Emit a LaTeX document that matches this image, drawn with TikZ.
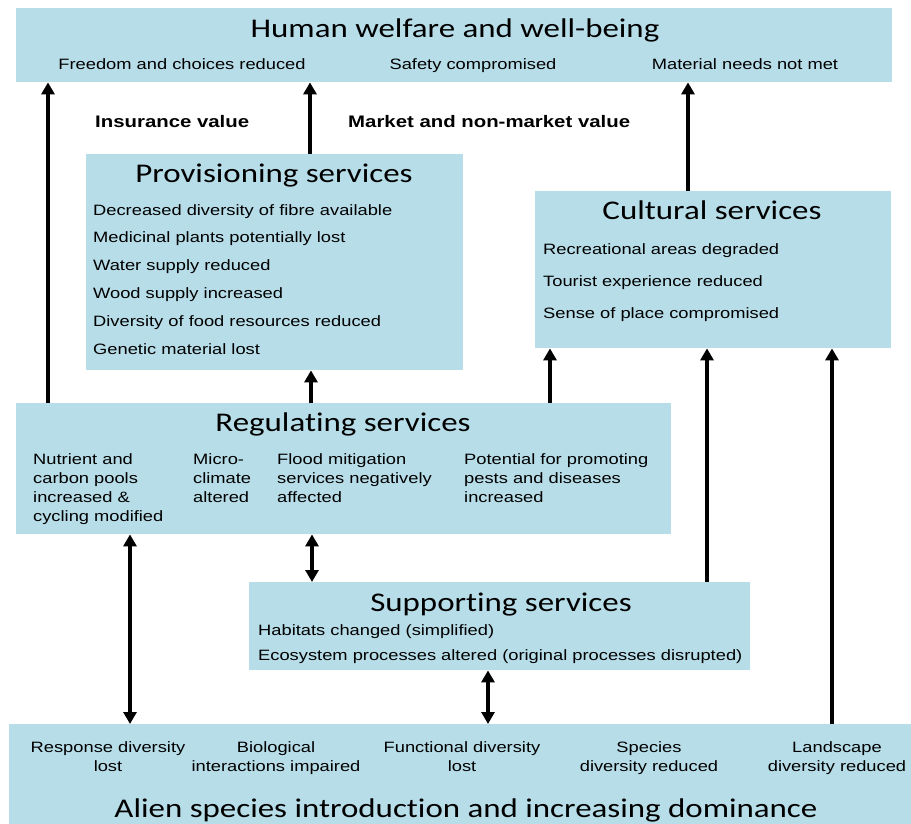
\documentclass[tikz,border=0pt]{standalone}
\usepackage{fontspec}
\setmainfont[FakeStretch=1.22]{Liberation Sans}
\newfontfamily\headfont[FakeStretch=1.22, Ligatures=NoCommon]{Carlito}
\usepackage{tikz}
\usetikzlibrary{positioning, arrows.meta}
\definecolor{panelblue}{RGB}{183,221,232}

\begin{document}
\begin{tikzpicture}[x=1pt, y=-1pt,
        panel/.style={rectangle, fill=panelblue, inner sep=0pt, anchor=north west},
        heading/.style={inner sep=0pt, anchor=base, font=\headfont\fontsize{27}{30}\selectfont},
        item/.style={inner sep=0pt, anchor=north west, align=left, font=\fontsize{15}{19}\selectfont},
        valuelabel/.style={inner sep=0pt, anchor=base west, font=\bfseries\fontsize{16.7}{20}\selectfont},
        uparrow/.style={-{Triangle[length=12pt, width=13pt]}, line width=3.5pt},
        bothways/.style={{Triangle[length=12pt, width=13pt]}-{Triangle[length=12pt, width=13pt]}, line width=3.5pt}
    ]
    \useasboundingbox (0,0) rectangle (911,824);
    % Boxes
    \node[panel, minimum width=876pt, minimum height=74pt] (welfare) at (16,8) {};
    \node[panel, minimum width=377pt, minimum height=216pt] (prov) at (86,154) {};
    \node[panel, minimum width=356pt, minimum height=157pt] (cult) at (535,191) {};
    \node[panel, minimum width=655pt, minimum height=131pt] (reg) at (16,403) {};
    \node[panel, minimum width=501pt, minimum height=88pt] (supp) at (249,582) {};
    \node[panel, minimum width=902pt, minimum height=100pt] (alien) at (9,724) {};
    % Human welfare
    \node[heading] (welfare_title) at (455,38) {Human welfare and well-being};
    \node[item, anchor=base] (freedom) at (182,70) {Freedom and choices reduced};
    \node[item, anchor=base] (safety) at (473,70) {Safety compromised};
    \node[item, anchor=base] (material) at (745,70) {Material needs not met};
    % Values
    \node[valuelabel] (insurance) at (95,128) {Insurance value};
    \node[valuelabel] (market) at (348,128) {Market and non-market value};
    % Provisioning services
    \node[heading] (prov_title) at (274,183) {Provisioning services};
    \node[item, font=\fontsize{15}{27.8}\selectfont] (prov_list) at (93,204) {Decreased diversity of fibre available\\
        Medicinal plants potentially lost\\ Water supply reduced\\ Wood supply increased\\
        Diversity of food resources reduced\\ Genetic material lost};
    % Cultural services
    \node[heading] (cult_title) at (712,219) {Cultural services};
    \node[item, font=\fontsize{15}{32}\selectfont] (cult_list) at (543,243) {Recreational areas degraded\\
        Tourist experience reduced\\ Sense of place compromised};
    % Regulating services
    \node[heading] (reg_title) at (343,431) {Regulating services};
    \node[item, font=\fontsize{15}{19.3}\selectfont] (nutrient) at (33,453) {Nutrient and\\ carbon pools\\ increased \&\\ cycling modified};
    \node[item, font=\fontsize{15}{19.3}\selectfont] (climate) at (193,453) {Micro-\\ climate\\ altered};
    \node[item, font=\fontsize{15}{19.3}\selectfont] (flood) at (277,453) {Flood mitigation\\ services negatively\\ affected};
    \node[item, font=\fontsize{15}{19.3}\selectfont] (pests) at (464,453) {Potential for promoting\\ pests and diseases\\ increased};
    % Supporting services
    \node[heading] (supp_title) at (501,611) {Supporting services};
    \node[item, font=\fontsize{15}{25}\selectfont] (supp_list) at (258,624) {Habitats changed (simplified)\\
        Ecosystem processes altered (original processes disrupted)};
    % Alien species
    \node[item, anchor=north, align=center] (response) at (108,741) {Response diversity\\ lost};
    \node[item, anchor=north, align=center] (interactions) at (276,741) {Biological\\ interactions impaired};
    \node[item, anchor=north, align=center] (functional) at (462,741) {Functional diversity\\ lost};
    \node[item, anchor=north, align=center] (species) at (649,741) {Species\\ diversity reduced};
    \node[item, anchor=north, align=center] (landscape) at (837,741) {Landscape\\ diversity reduced};
    \node[heading] (alien_title) at (466,817) {Alien species introduction and increasing dominance};
    % Arrows
    \draw[uparrow] (48,0 |- reg.north) -- (48,0 |- welfare.south);
    \draw[uparrow] (310,0 |- prov.north) -- (310,0 |- welfare.south);
    \draw[uparrow] (688,0 |- cult.north) -- (688,0 |- welfare.south);
    \draw[uparrow] (311,0 |- reg.north) -- (311,0 |- prov.south);
    \draw[uparrow] (550,0 |- reg.north) -- (550,0 |- cult.south);
    \draw[uparrow] (707,0 |- supp.north) -- (707,0 |- cult.south);
    \draw[uparrow] (832,0 |- alien.north) -- (832,0 |- cult.south);
    \draw[bothways] (130,0 |- reg.south) -- (130,0 |- alien.north);
    \draw[bothways] (312,0 |- reg.south) -- (312,0 |- supp.north);
    \draw[bothways] (488,0 |- supp.south) -- (488,0 |- alien.north);
\end{tikzpicture}
\end{document}
